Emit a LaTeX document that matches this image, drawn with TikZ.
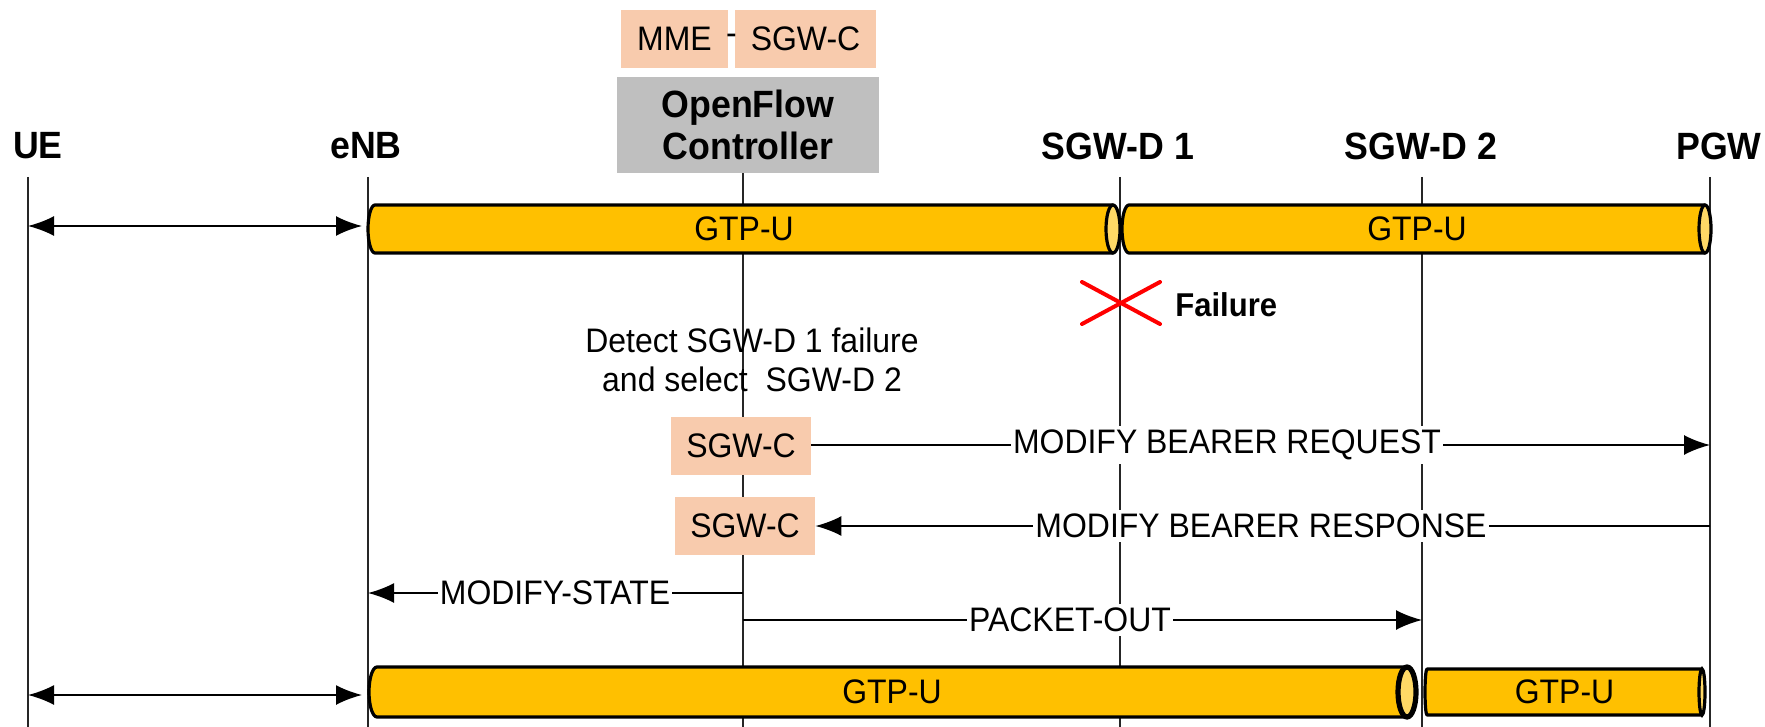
\documentclass[tikz,border=0pt]{standalone}
\usepackage{fontspec}
\setmainfont[FakeStretch=0.94]{Liberation Sans}
\usetikzlibrary{arrows.meta}
\definecolor{tubefill}{HTML}{FFC000}
\definecolor{tubeend}{HTML}{FFD966}
\definecolor{peach}{HTML}{F8CBAD}
\definecolor{ctrlgray}{HTML}{BFBFBF}
\definecolor{failred}{HTML}{FF0000}

% horizontal GTP-U tunnel: #1 name, #2 left centre x, #3 right centre x,
% #4 centre y, #5 half height, #6 left end radius, #7 right end radius, #8 end line width
\newcommand\gtptube[8]{%
  \filldraw[tube] (#2,#4-#5) -- (#3,#4-#5) -- (#3,#4+#5) -- (#2,#4+#5)
    arc[start angle=90,end angle=270,x radius=#6,y radius=#5] -- cycle;
  \filldraw[tubecapst,line width=#8] (#3,#4) ellipse[x radius=#7,y radius=#5];
  \node (#1) at ({(#2+#3)/2},#4) {GTP-U};
}

\begin{document}
\begin{tikzpicture}[x=0.5pt,y=-0.5pt,
  every node/.style={font=\fontsize{17}{20}\selectfont, inner sep=0pt},
  head/.style={font=\fontsize{19}{21}\selectfont\bfseries},
  life/.style={line width=1pt, draw=black!85},
  msg/.style={line width=1pt, -{Latex[length=13pt,width=10pt]}},
  both/.style={line width=1pt, {Latex[length=13pt,width=10pt]}-{Latex[length=13pt,width=10pt]}},
  lbl/.style={fill=white, inner xsep=1pt, inner ysep=2pt},
  peachbox/.style={fill=peach, minimum height=29pt},
  tube/.style={fill=tubefill, draw=black, line width=1.6pt, line join=round},
  tubecapst/.style={fill=tubeend, draw=black, line width=1.6pt}
]
\useasboundingbox (0,0) rectangle (1765,727);

% entity headings
\node[head] (hUE)  at (38,146)   {UE};
\node[head] (hENB) at (366,146)  {eNB};
\node[head] (hS1)  at (1118,146) {SGW-D 1};
\node[head] (hS2)  at (1421,146) {SGW-D 2};
\node[head] (hPGW) at (1719,146) {PGW};

% controller and its functions
\node[peachbox, minimum width=53.5pt] (mme)  at (674.5,39) {MME};
\node[peachbox, minimum width=70.5pt] (sgwt) at (805.5,39) {SGW-C};
\node (dash) at (731.5,39) {-};
\node[head, fill=ctrlgray, minimum width=131pt, minimum height=48pt, align=center] (ofc) at (748,125) {OpenFlow\\Controller};

% lifelines
\coordinate (ueT)  at (28,177);   \coordinate (ueB)  at (28,727);
\coordinate (enbT) at (368,177);  \coordinate (enbB) at (368,727);
\coordinate (ctlB) at (743,727);
\coordinate (s1T)  at (1120,177); \coordinate (s1B)  at (1120,727);
\coordinate (s2T)  at (1422,177); \coordinate (s2B)  at (1422,727);
\coordinate (pgT)  at (1710,177); \coordinate (pgB)  at (1710,727);
\draw[life] (ueT) -- (ueB);
\draw[life] (enbT) -- (enbB);
\draw[life] (ctlB |- ofc.south) -- (ctlB);
\draw[life] (s1T) -- (s1B);
\draw[life] (s2T) -- (s2B);
\draw[life] (pgT) -- (pgB);

% tunnels before the failure
\gtptube{tA}{375}{1113}{229}{24}{7}{7}{1.6pt}
\gtptube{tB}{1129}{1705}{229}{24}{7}{6}{1.6pt}
\coordinate (r1) at (362,226);
\draw[both] (ueT |- r1) -- (r1);

% failure of SGW-D 1
\draw[failred, line width=2pt, line cap=round] (1082,282) -- (1160,324) (1082,324) -- (1160,282);
\node[font=\fontsize{16.5}{19}\selectfont\bfseries, anchor=west] (fail) at (1175,305) {Failure};

\node[align=center, font=\fontsize{17}{19.5}\selectfont] (detect) at (752,360)
  {Detect SGW-D 1 failure\\and select~ SGW-D 2};

% bearer modification
\node[peachbox, minimum width=70pt] (sgwc1) at (741,446) {SGW-C};
\node[peachbox, minimum width=70pt] (sgwc2) at (745,526) {SGW-C};

\coordinate (req) at (1710,445);
\draw[msg] (sgwc1.east |- req) -- (req);
\node[lbl] (lreq) at (1227,445) {MODIFY BEARER REQUEST};

\coordinate (resp) at (1710,526);
\draw[msg] (resp) -- (sgwc2.east |- resp);
\node[lbl] (lresp) at (1261,526) {MODIFY BEARER RESPONSE};

\coordinate (ms) at (743,593);
\draw[msg] (ms) -- (enbT |- ms);
\node[lbl] (lms) at (555,593) {MODIFY-STATE};

\coordinate (po) at (743,620);
\draw[msg] (po) -- (s2T |- po);
\node[lbl] (lpo) at (1070,620) {PACKET-OUT};

% tunnels after the switch-over
\gtptube{tC}{377}{1407}{692}{25}{8}{9}{2.6pt}
\gtptube{tD}{1427}{1702}{692}{23}{2}{3}{1.6pt}
\coordinate (r2) at (362,695);
\draw[both] (ueT |- r2) -- (r2);
\end{tikzpicture}
\end{document}
